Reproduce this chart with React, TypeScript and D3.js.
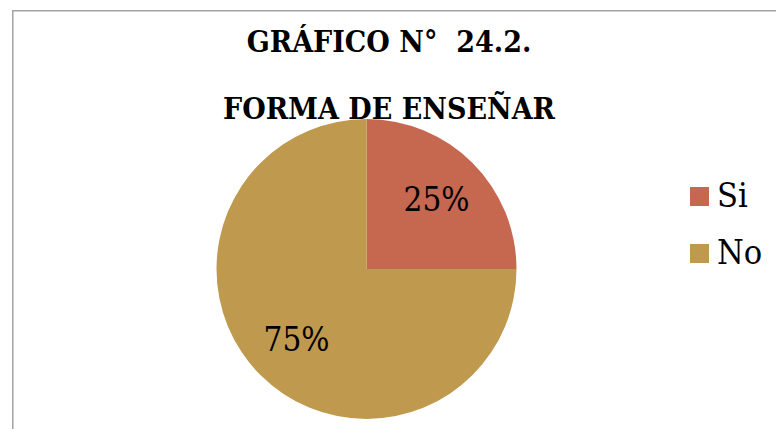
import React, { useEffect, useRef } from 'react';
import * as d3 from 'd3';

const categories = ['Si', 'No'];
const values = [25, 75];
const colors = ['#C5684F', '#BF994D'];
const titleLines = ['GRÁFICO N°\u00a0 24.2.', 'FORMA DE ENSEÑAR'];

const W = 776;
const H = 429;

const App: React.FC = () => {
  const svgRef = useRef<SVGSVGElement>(null);

  useEffect(() => {
    const svg = d3.select(svgRef.current);
    svg.selectAll('*').remove();

    // no Times here, the condensed DejaVu serif is the closest in width
    const font = "'DejaVu Serif Condensed', 'DejaVu Serif', serif";

    svg.append('rect')
      .attr('width', W).attr('height', H).attr('fill', '#fff');

    // chart area border (runs off the right and bottom edges)
    svg.append('rect')
      .attr('x', 12.75).attr('y', 10.75)
      .attr('width', W + 20).attr('height', H + 20)
      .attr('fill', 'none')
      .attr('stroke', '#a3a3a3')
      .attr('stroke-width', 1.5);

    // title
    svg.append('g')
      .selectAll('text')
      .data(titleLines)
      .join('text')
      .attr('x', 389)
      .attr('y', (_, i) => 52 + i * 67)
      .attr('text-anchor', 'middle')
      .style('font-family', font)
      .attr('font-weight', 'bold')
      .attr('font-size', 30)
      .attr('fill', '#000')
      .text(d => d);

    const cx = 366.5;
    const cy = 269;
    const r = 150;

    const pie = d3.pie<number>().sort(null).value(d => d);
    const arcs = pie(values);
    const arc = d3.arc<d3.PieArcDatum<number>>().innerRadius(0).outerRadius(r);
    const labelArc = d3.arc<d3.PieArcDatum<number>>().innerRadius(r * 0.66).outerRadius(r * 0.66);
    const total = d3.sum(values);

    const g = svg.append('g').attr('transform', `translate(${cx},${cy})`);

    g.selectAll('path')
      .data(arcs)
      .join('path')
      .attr('d', arc)
      .attr('fill', (_, i) => colors[i]);

    g.selectAll('text')
      .data(arcs)
      .join('text')
      .attr('transform', d => {
        const [x, y] = labelArc.centroid(d);
        return `translate(${x},${y})`;
      })
      .attr('text-anchor', 'middle')
      .attr('dy', '0.35em')
      .style('font-family', font)
      .attr('font-size', 33)
      .attr('fill', '#000')
      .text(d => `${Math.round((d.data / total) * 100)}%`);

    // legend
    const legend = svg.append('g')
      .selectAll('g')
      .data(categories)
      .join('g')
      .attr('transform', (_, i) => `translate(690,${187 + i * 57})`);

    legend.append('rect')
      .attr('width', 19).attr('height', 19)
      .attr('fill', (_, i) => colors[i]);

    legend.append('text')
      .attr('x', 27).attr('y', 20)
      .style('font-family', font)
      .attr('font-size', 34)
      .attr('fill', '#000')
      .text(d => d);
  }, []);

  return (
    <div style={{ position: 'absolute', left: 0, top: 0 }}>
      <svg ref={svgRef} width={W} height={H} style={{ display: 'block' }} />
    </div>
  );
};

export default App;
